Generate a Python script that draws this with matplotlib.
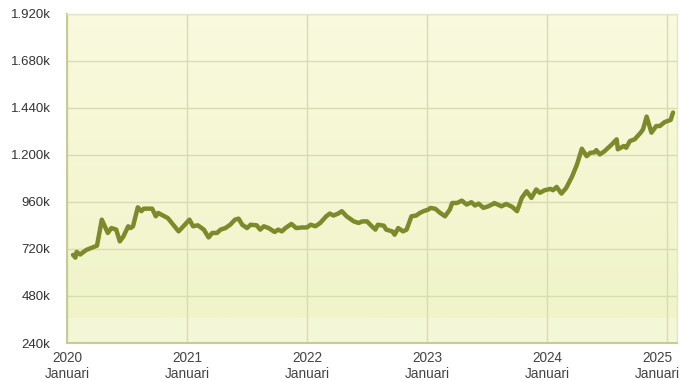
import matplotlib
matplotlib.use("Agg")
import matplotlib.pyplot as plt
import numpy as np
from matplotlib.colors import LinearSegmentedColormap

# Data: decimal year and value (in thousands)
years = [2020.05, 2020.07, 2020.08, 2020.11, 2020.16, 2020.21, 2020.25, 2020.29, 2020.34, 2020.37,
         2020.41, 2020.44, 2020.47, 2020.51, 2020.53, 2020.55, 2020.59, 2020.62, 2020.64, 2020.71,
         2020.74, 2020.76, 2020.84, 2020.93, 2020.97, 2021.02, 2021.05, 2021.09, 2021.14, 2021.18,
         2021.21, 2021.25, 2021.28, 2021.32, 2021.36, 2021.40, 2021.43, 2021.46, 2021.50, 2021.53,
         2021.58, 2021.61, 2021.64, 2021.68, 2021.73, 2021.76, 2021.79, 2021.82, 2021.87, 2021.91,
         2021.96, 2022.00, 2022.03, 2022.07, 2022.11, 2022.16, 2022.19, 2022.22, 2022.26, 2022.29,
         2022.33, 2022.39, 2022.43, 2022.46, 2022.50, 2022.54, 2022.57, 2022.59, 2022.64, 2022.66,
         2022.71, 2022.73, 2022.76, 2022.80, 2022.83, 2022.87, 2022.91, 2022.94, 2022.97, 2023.01,
         2023.03, 2023.07, 2023.11, 2023.15, 2023.19, 2023.21, 2023.25, 2023.29, 2023.33, 2023.37,
         2023.40, 2023.43, 2023.47, 2023.51, 2023.55, 2023.56, 2023.62, 2023.66, 2023.71, 2023.75,
         2023.79, 2023.83, 2023.87, 2023.91, 2023.94, 2023.98, 2024.03, 2024.05, 2024.08, 2024.12,
         2024.16, 2024.21, 2024.25, 2024.29, 2024.33, 2024.36, 2024.40, 2024.41, 2024.44, 2024.48,
         2024.54, 2024.58, 2024.59, 2024.64, 2024.66, 2024.69, 2024.73, 2024.78, 2024.80, 2024.83,
         2024.87, 2024.91, 2024.94, 2024.98, 2025.03, 2025.05]
values = [690, 676, 705, 692, 715, 727, 737, 870, 802, 827,
          819, 759, 784, 836, 827, 836, 933, 913, 926, 926,
          887, 904, 878, 810, 836, 870, 836, 841, 819, 779,
          802, 802, 819, 827, 844, 870, 875, 844, 827, 844,
          841, 819, 836, 827, 807, 819, 810, 827, 848, 827,
          830, 830, 844, 836, 853, 887, 901, 891, 901, 913,
          887, 861, 853, 861, 861, 836, 819, 844, 839, 819,
          810, 793, 827, 810, 819, 887, 891, 904, 913, 921,
          930, 925, 904, 887, 921, 955, 955, 967, 947, 959,
          942, 952, 930, 938, 950, 955, 938, 950, 935, 913,
          981, 1015, 981, 1024, 1007, 1020, 1027, 1020, 1037, 1003,
          1032, 1092, 1152, 1232, 1194, 1211, 1214, 1225, 1203, 1220,
          1254, 1280, 1229, 1246, 1237, 1271, 1280, 1314, 1331, 1396,
          1314, 1348, 1348, 1368, 1379, 1417]

y_ticks = [240, 480, 720, 960, 1200, 1440, 1680, 1920]
y_labels = ["240k", "480k", "720k", "960k", "1.200k", "1.440k", "1.680k", "1.920k"]
x_ticks = [2020, 2021, 2022, 2023, 2024, 2025]
x_labels = [f"{y}\nJanuari" for y in x_ticks]

fig = plt.figure(figsize=(6.8, 3.8), dpi=100)
ax = fig.add_axes([67/680, 37/380, 610/680, 329/380])
ax.set_xlim(2020, 2025.083)
ax.set_ylim(240, 1920)

# background gradient
cmap = LinearSegmentedColormap.from_list("bg", ["#f0f4c8", "#f9fade"])
grad = np.linspace(0, 1, 256).reshape(-1, 1)
ax.imshow(grad, aspect="auto", cmap=cmap, origin="lower",
          extent=[2020, 2025.083, 368, 1920], zorder=0)
ax.axhspan(240, 368, color="#f4f6d8", zorder=0.5, lw=0)
ax.set_facecolor("#f4f6d8")

ax.grid(True, color="#d9dcb2", linewidth=1.0, zorder=1)
ax.set_axisbelow(True)

ax.plot(years, values, color="#7d8a2b", linewidth=3.2, solid_joinstyle="round",
        solid_capstyle="round", zorder=3)

ax.set_yticks(y_ticks)
ax.set_yticklabels(y_labels)
ax.set_xticks(x_ticks)
# last label is drawn separately, shifted left so it stays inside the figure
ax.set_xticklabels(x_labels[:-1] + [""])

for lab in ax.get_yticklabels():
    lab.set_fontfamily("Liberation Sans")
    lab.set_fontsize(9.5)
    lab.set_color("#333333")
for lab in ax.get_xticklabels():
    lab.set_fontfamily("Liberation Sans")
    lab.set_fontsize(9.8)
    lab.set_color("#444444")
    lab.set_linespacing(1.15)

ax.annotate(x_labels[-1], xy=(x_ticks[-1], 0), xycoords=("data", "axes fraction"),
            xytext=(-10, -8), textcoords="offset pixels", ha="center", va="top",
            fontfamily="Liberation Sans", fontsize=9.8, color="#444444",
            linespacing=1.15, annotation_clip=False)

ax.tick_params(axis="y", length=0, pad=12)
ax.tick_params(axis="x", length=0, pad=6)

for side in ["top", "right"]:
    ax.spines[side].set_color("#e3e6c4")
    ax.spines[side].set_linewidth(1.0)
for side in ["left", "bottom"]:
    ax.spines[side].set_color("#c6cc92")
    ax.spines[side].set_linewidth(1.5)

fig.savefig("out.png", dpi=100, facecolor="white")
